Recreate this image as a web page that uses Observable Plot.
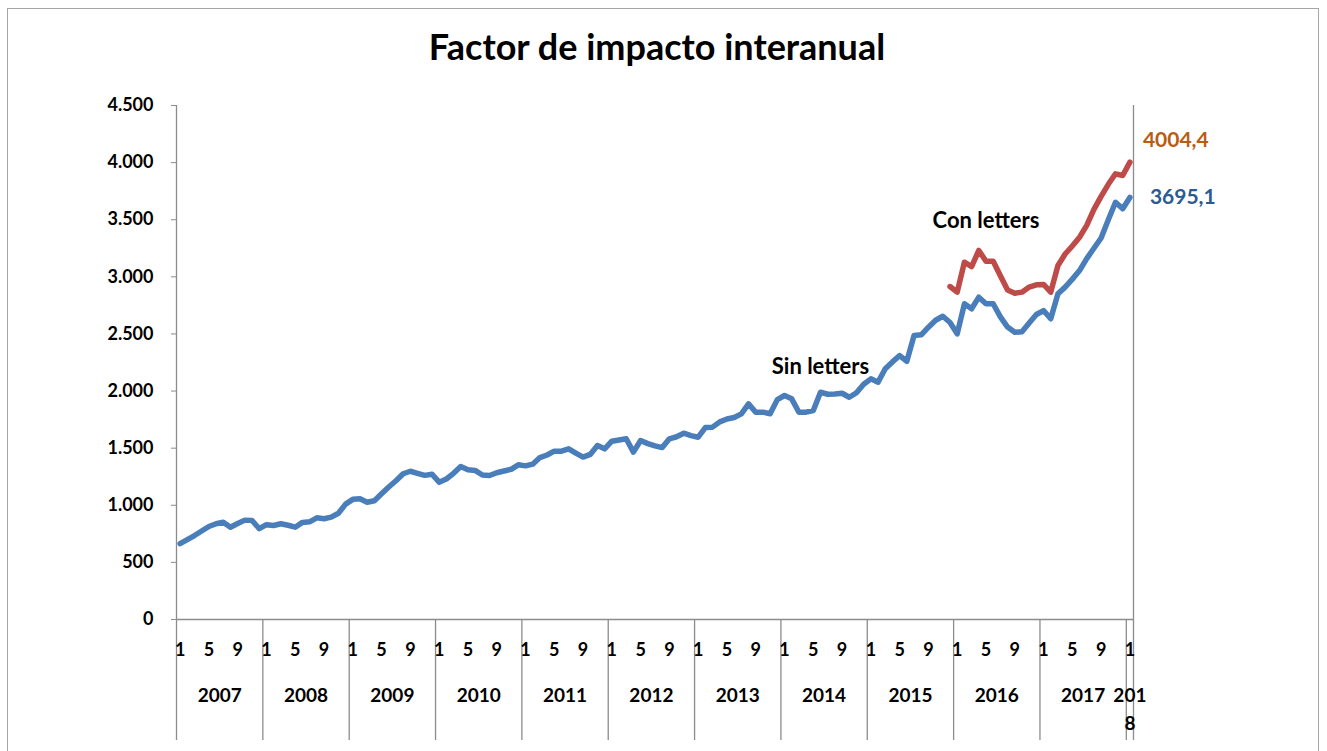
<!DOCTYPE html>
<html>
<head>
<meta charset="utf-8">
<script src="https://cdn.jsdelivr.net/npm/d3@7"></script>
<script src="https://cdn.jsdelivr.net/npm/@observablehq/plot@0.6"></script>
<style>
  html, body { margin: 0; padding: 0; background: #fff; }
  #wrap { position: relative; width: 1327px; height: 751px; overflow: hidden; background: #fff; font-family: Lato, "Open Sans", sans-serif; }
  #frame { position: absolute; left: 7px; top: 8px; width: 1312px; height: 800px; border: 1px solid #a6a6a6; box-sizing: border-box; }
  #title { position: absolute; left: 0; top: 28px; width: 1314px; text-align: center; font: bold 36px/36px Lato, "Open Sans", sans-serif; color: #000; }
  #chart { position: absolute; left: 0; top: 90px; }
</style>
</head>
<body>
<div id="wrap">
  <div id="frame"></div>
  <div id="title">Factor de impacto interanual</div>
  <div id="chart"></div>
</div>
<script>
// ---- Data ----
const years = [2007, 2008, 2009, 2010, 2011, 2012, 2013, 2014, 2015, 2016, 2017, 2018];
const monthTickLabels = [1, 5, 9];
const yTicks = [0, 500, 1000, 1500, 2000, 2500, 3000, 3500, 4000, 4500];

// "Sin letters": Jan 2007 .. Jan 2018 (monthly)
const sinLetters = [
  665, 700, 735, 775, 814, 838, 852, 808, 840, 870, 867, 795,          // 2007
  830, 823, 838, 825, 808, 850, 855, 890, 882, 896, 930, 1010,         // 2008
  1052, 1057, 1027, 1040, 1100, 1160, 1215, 1276, 1298, 1280, 1262, 1272, // 2009
  1202, 1230, 1280, 1340, 1311, 1305, 1265, 1261, 1285, 1300, 1315, 1354, // 2010
  1345, 1360, 1418, 1440, 1474, 1474, 1494, 1456, 1422, 1445, 1523, 1494, // 2011
  1561, 1572, 1582, 1465, 1567, 1540, 1520, 1505, 1582, 1600, 1631, 1610, // 2012
  1596, 1680, 1684, 1730, 1755, 1768, 1800, 1888, 1815, 1815, 1801, 1925, // 2013
  1961, 1932, 1815, 1815, 1830, 1990, 1972, 1975, 1981, 1946, 1985, 2060, // 2014
  2107, 2078, 2195, 2255, 2311, 2261, 2486, 2492, 2559, 2620, 2655, 2600, // 2015
  2501, 2764, 2720, 2822, 2764, 2764, 2650, 2560, 2515, 2520, 2595, 2670, // 2016
  2705, 2633, 2852, 2910, 2980, 3055, 3160, 3250, 3340, 3500, 3653, 3596, // 2017
  3695.1                                                                  // 2018
];

// "Con letters": Dec 2015 .. Jan 2018 (monthly)
const conLettersStart = "2015-12";
const conLetters = [
  2915,                                                                   // 2015-12
  2866, 3128, 3090, 3231, 3137, 3137, 3010, 2885, 2857, 2866, 2910, 2930, // 2016
  2933, 2866, 3099, 3200, 3270, 3347, 3450, 3590, 3705, 3810, 3902, 3887, // 2017
  4004.4                                                                  // 2018
];

const annotations = [
  {text: "Sin letters", month: "2014-06", value: 2215},
  {text: "Con letters", month: "2016-05", value: 3493}
];

// ---- Build tables ----
const categories = years.flatMap(y => (y === 2018 ? [1] : d3.range(1, 13)).map(m => ({year: y, month: m, key: `${y}-${String(m).padStart(2, "0")}`})));
const idx = new Map(categories.map((c, i) => [c.key, i]));
const sinRows = sinLetters.map((v, i) => ({i, v}));
const c0 = idx.get(conLettersStart);
const conRows = conLetters.map((v, j) => ({i: c0 + j, v}));
const N = categories.length;

const monthTicks = categories.map((c, i) => ({c, pos: i + 0.5})).filter(d => monthTickLabels.includes(d.c.month));
const monthLabelAt = new Map(monthTicks.map(d => [d.pos, String(d.c.month)]));
const yearTicks = years.map(y => {
  const ii = categories.map((c, i) => c.year === y ? i : -1).filter(i => i >= 0);
  return {year: y, pos: (ii[0] + ii[ii.length - 1] + 1) / 2};
});
const yearLabelAt = new Map(yearTicks.map(d => [d.pos, d.year === 2018 ? "201\n8" : String(d.year)]));
const yearBounds = years.map(y => categories.findIndex(c => c.year === y));

const fmtThousands = d => d3.format(",")(d).replace(/,/g, ".");
const fmtDec = d => d3.format(".1f")(d).replace(".", ",");

const blue = "#4a7ebb", red = "#be4b48";
const axisGray = "#8c8c8c";

const chart = Plot.plot({
  width: 1327,
  height: 661,
  marginTop: 15,
  marginBottom: 132,
  marginLeft: 176,
  marginRight: 194,
  style: {background: "transparent", overflow: "visible", fontFamily: "Lato, 'Open Sans', sans-serif"},
  x: {domain: [0, N], axis: null},
  y: {domain: [0, 4500], axis: null},
  marks: [
    // year separators below the axis
    Plot.ruleX(yearBounds, {x: d => d, y1: 0, y2: 0, insetBottom: -121, stroke: axisGray, strokeWidth: 1.3}),
    // right border (spans full height and below)
    Plot.ruleX([N], {stroke: axisGray, strokeWidth: 1.3, insetBottom: -121}),
    Plot.ruleX([0], {stroke: axisGray, strokeWidth: 1.3}),
    Plot.ruleY([0], {stroke: axisGray, strokeWidth: 1.3}),
    Plot.axisY({ticks: yTicks, tickFormat: fmtThousands, tickSize: 5, tickPadding: 18, fontSize: 18, fontWeight: "bold", stroke: axisGray, fill: "#000"}),
    Plot.axisX({ticks: monthTicks.map(d => d.pos), tickFormat: d => monthLabelAt.get(d), tickSize: 0, tickPadding: 24, fontSize: 18, fontWeight: "bold", fill: "#000"}),
    Plot.axisX({ticks: yearTicks.map(d => d.pos), tickFormat: d => yearLabelAt.get(d), tickSize: 0, tickPadding: 62, fontSize: 19, fontWeight: "bold", fill: "#000", lineHeight: 1.5}),
    Plot.line(sinRows, {x: d => d.i + 0.5, y: "v", stroke: blue, strokeWidth: 5.5, strokeLinejoin: "round", strokeLinecap: "round"}),
    Plot.line(conRows, {x: d => d.i + 0.5, y: "v", stroke: red, strokeWidth: 5.5, strokeLinejoin: "round", strokeLinecap: "round"}),
    Plot.text(annotations, {x: d => idx.get(d.month) + 0.5, y: "value", text: "text", fontSize: 22, fontWeight: "bold", fill: "#000"}),
    Plot.text([conRows[conRows.length - 1]], {x: d => d.i + 0.5, y: "v", text: d => fmtDec(d.v), textAnchor: "start", dx: 13, dy: -22, fontSize: 21, fontWeight: "bold", fill: "#b85c14"}),
    Plot.text([sinRows[sinRows.length - 1]], {x: d => d.i + 0.5, y: "v", text: d => fmtDec(d.v), textAnchor: "start", dx: 20, dy: 0, fontSize: 21, fontWeight: "bold", fill: "#2c5a94"})
  ]
});
document.getElementById("chart").appendChild(chart);
</script>
</body>
</html>
